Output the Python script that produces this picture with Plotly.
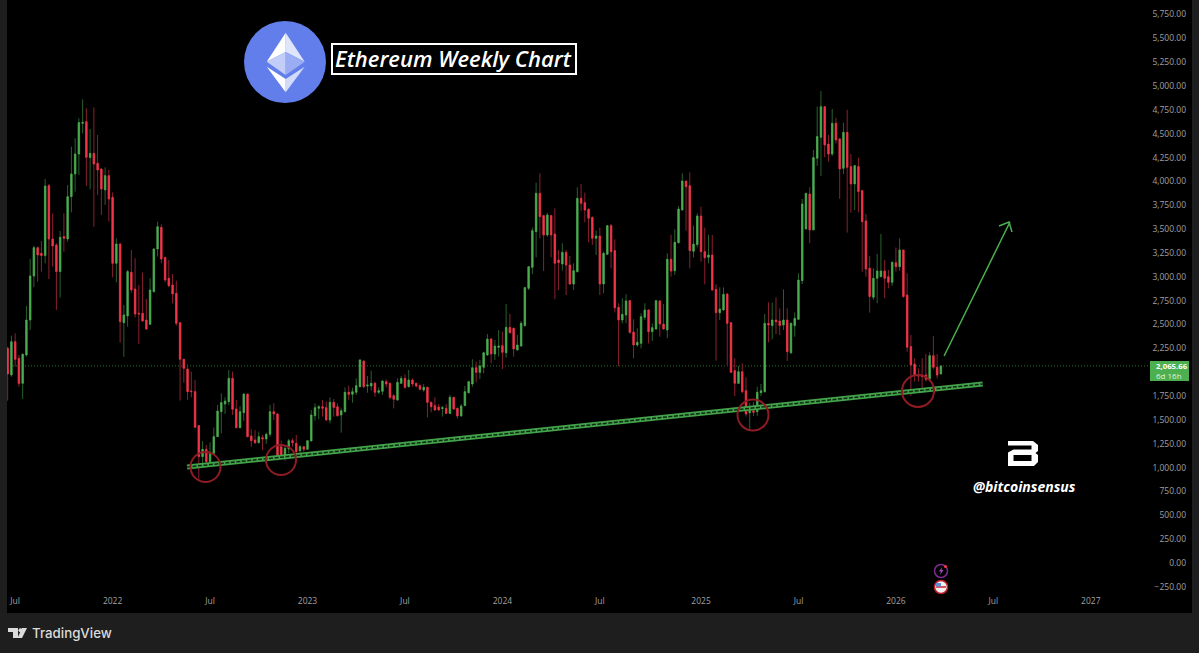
import pandas as pd
import plotly.graph_objects as go

W = 1199
H = 653

first_week = "2021-06-21"

opens = [
    2250, 1971, 2320, 2145, 1883, 2180, 2547, 3008, 3305, 3246, 3222, 3955, 3396, 3333, 3054, 3421, 3396, 3840, 4078, 4287,
    4609, 4626, 4249, 4294, 4189, 4130, 3910, 4060, 3833, 3141, 3344, 2519, 2589, 3047, 2872, 2617, 2617, 2547, 2502, 2844,
    3291, 3518, 3201, 2984, 2914, 2827, 2519, 2135, 2034, 1803, 1796, 1440, 1115, 1191, 1062, 1150, 1324, 1586, 1667, 1691,
    1936, 1614, 1418, 1576, 1771, 1331, 1289, 1261, 1314, 1300, 1349, 1586, 1562, 1219, 1125, 1195, 1282, 1254, 1177, 1219,
    1191, 1279, 1544, 1621, 1638, 1628, 1499, 1684, 1638, 1551, 1586, 1789, 1768, 1789, 1848, 2117, 1855, 1855, 1883, 1789,
    1799, 1901, 1883, 1754, 1708, 1883, 1935, 1848, 1918, 1883, 1859, 1813, 1841, 1684, 1649, 1635, 1618, 1621, 1568, 1736,
    1621, 1541, 1649, 1785, 1876, 2047, 1998, 2051, 2180, 2348, 2191, 2260, 2278, 2204, 2470, 2460, 2232, 2274, 2488, 2879,
    3099, 3473, 3875, 3641, 3438, 3641, 3448, 3176, 3134, 3256, 3123, 2924, 3053, 3822, 3777, 3707, 3623, 3403, 3427, 2924,
    3235, 3536, 3274, 2680, 2547, 2599, 2750, 2421, 2285, 2302, 2575, 2652, 2425, 2453, 2746, 2505, 2442, 3183, 3064, 3357,
    3700, 4004, 3955, 3267, 3337, 3637, 3263, 3204, 3228, 2868, 2624, 2652, 2819, 2519, 2016, 1883, 2005, 1806, 1575, 1596,
    1586, 1785, 1796, 2512, 2488, 2547, 2536, 2494, 2547, 2204, 2488, 2554, 2959, 3501, 3868, 3491, 4242, 4462, 4783, 4392,
    4287, 4609, 4445, 4137, 4514, 4155, 3973, 4155, 3903, 3585, 3089, 2785, 2984, 3001, 3061, 3001, 2942, 3148, 3106, 3281,
    2809, 2268, 2086, 1971, 1971, 1971, 1929, 2173, 2051, 1981,
]
highs = [
    2268, 2383, 2407, 2180, 2198, 2694, 3187, 3326, 3316, 3375, 4025, 3973, 3665, 3351, 3480, 3665, 3962, 4364, 4451, 4661,
    4860, 4766, 4549, 4776, 4486, 4137, 4147, 4119, 3885, 3403, 3351, 2704, 3071, 3281, 3194, 2914, 3043, 2767, 2984, 3298,
    3578, 3550, 3211, 3176, 3029, 2959, 2519, 2135, 2082, 2006, 1918, 1440, 1279, 1237, 1265, 1419, 1656, 1778, 1737, 2023,
    2006, 1709, 1646, 1778, 1771, 1401, 1394, 1377, 1342, 1366, 1656, 1674, 1569, 1282, 1237, 1300, 1307, 1342, 1237, 1226,
    1289, 1604, 1673, 1656, 1708, 1691, 1736, 1719, 1673, 1621, 1841, 1859, 1838, 1935, 2138, 2121, 1960, 2016, 1901, 1841,
    1918, 1925, 1890, 1768, 1935, 1960, 1977, 2023, 1935, 1890, 1872, 1876, 1848, 1691, 1736, 1666, 1645, 1666, 1761, 1743,
    1628, 1666, 1855, 1911, 2135, 2110, 2128, 2215, 2400, 2355, 2337, 2442, 2425, 2715, 2610, 2467, 2390, 2536, 2896, 3113,
    3515, 3986, 4084, 3648, 3672, 3648, 3717, 3281, 3350, 3281, 3218, 3141, 3937, 3972, 3882, 3717, 3630, 3483, 3515, 3263,
    3543, 3553, 3392, 2722, 2774, 2816, 2757, 2554, 2460, 2617, 2722, 2662, 2512, 2757, 2757, 2715, 3246, 3441, 3497, 3742,
    4084, 4004, 4095, 3536, 3665, 3735, 3515, 3441, 3438, 2921, 2889, 2889, 2826, 2519, 2145, 2065, 2093, 1946, 1680, 1687,
    1848, 1876, 2610, 2732, 2729, 2784, 2669, 2868, 2669, 2522, 2627, 3036, 3815, 3875, 3938, 4329, 4783, 4948, 4790, 4487,
    4759, 4668, 4452, 4616, 4749, 4287, 4172, 4249, 3910, 3655, 3218, 3089, 3239, 3449, 3176, 3071, 3159, 3306, 3403, 3281,
    3036, 2390, 2145, 2041, 2145, 2191, 2208, 2380, 2191, 2069,
]
lows = [
    1702, 1953, 2058, 1848, 1719, 2163, 2442, 2890, 2949, 3054, 3141, 2977, 3106, 2652, 2781, 3263, 3368, 3676, 3892, 4067,
    4504, 3952, 3917, 3525, 3857, 3648, 3753, 3578, 2994, 2942, 2310, 2163, 2477, 2834, 2575, 2296, 2530, 2442, 2495, 2837,
    3211, 3141, 2942, 2890, 2722, 2488, 1702, 1890, 1709, 1737, 1422, 870, 1038, 1052, 1055, 1150, 1324, 1359, 1562, 1656,
    1551, 1412, 1412, 1492, 1324, 1219, 1247, 1254, 1185, 1247, 1324, 1499, 1073, 1115, 1073, 1150, 1219, 1132, 1149, 1167,
    1184, 1279, 1492, 1506, 1534, 1492, 1464, 1534, 1534, 1366, 1579, 1708, 1680, 1761, 1841, 1831, 1785, 1806, 1743, 1771,
    1761, 1841, 1715, 1621, 1701, 1876, 1827, 1841, 1848, 1841, 1813, 1796, 1527, 1579, 1596, 1596, 1534, 1561, 1561, 1604,
    1516, 1534, 1645, 1778, 1848, 1894, 1928, 1988, 2173, 2093, 2128, 2163, 2033, 2152, 2407, 2163, 2232, 2267, 2477, 2861,
    3029, 3204, 3403, 3060, 3420, 3204, 2767, 2861, 3064, 2809, 2914, 2861, 3047, 3693, 3571, 3361, 3333, 3228, 2809, 2826,
    3228, 3088, 2627, 2065, 2512, 2512, 2400, 2145, 2267, 2250, 2547, 2302, 2327, 2442, 2372, 2442, 2355, 3001, 3019, 3350,
    3700, 3483, 3088, 3204, 3309, 3158, 2921, 3141, 2854, 2121, 2547, 2645, 2075, 1998, 1750, 1876, 1778, 1534, 1387, 1541,
    1541, 1750, 1785, 2313, 2344, 2400, 2390, 2442, 2117, 2191, 2372, 2547, 2924, 3501, 3351, 3491, 4162, 4057, 4252, 4207,
    4266, 4399, 3816, 4078, 3463, 3672, 3700, 3676, 3054, 3001, 2624, 2757, 2722, 3001, 2774, 2879, 2904, 3054, 3064, 2781,
    2215, 1751, 1901, 1901, 1796, 1901, 1918, 2030, 1936, 1981,
]
closes = [
    1981, 2320, 2135, 1883, 2187, 2547, 3008, 3305, 3228, 3222, 3952, 3396, 3323, 3054, 3414, 3403, 3840, 4078, 4287, 4616,
    4619, 4252, 4294, 4182, 4119, 3920, 4060, 3815, 3141, 3344, 2530, 2600, 3054, 2862, 2610, 2610, 2537, 2453, 2862, 3291,
    3525, 3187, 2966, 2907, 2820, 2512, 2135, 2041, 1796, 1796, 1422, 1115, 1191, 1062, 1160, 1324, 1593, 1681, 1698, 1936,
    1611, 1418, 1586, 1771, 1324, 1282, 1261, 1324, 1300, 1349, 1586, 1562, 1132, 1132, 1202, 1282, 1261, 1167, 1219, 1191,
    1282, 1551, 1628, 1638, 1621, 1499, 1684, 1631, 1544, 1596, 1789, 1768, 1796, 1859, 2128, 1848, 1866, 1883, 1789, 1806,
    1907, 1876, 1736, 1715, 1893, 1935, 1841, 1918, 1876, 1855, 1820, 1841, 1684, 1638, 1604, 1604, 1628, 1568, 1736, 1614,
    1541, 1645, 1796, 1901, 2047, 1998, 2065, 2204, 2348, 2191, 2274, 2274, 2208, 2470, 2414, 2243, 2285, 2512, 2886, 3106,
    3483, 3875, 3630, 3438, 3648, 3438, 3141, 3148, 3256, 3123, 2924, 3064, 3822, 3770, 3700, 3613, 3403, 3427, 2924, 3246,
    3536, 3263, 2676, 2547, 2606, 2746, 2418, 2285, 2313, 2582, 2652, 2425, 2467, 2750, 2505, 2453, 3183, 3060, 3361, 3710,
    4004, 3944, 3274, 3343, 3637, 3263, 3200, 3228, 2861, 2624, 2662, 2816, 2512, 1998, 1883, 2005, 1796, 1562, 1596, 1579,
    1789, 1806, 2512, 2494, 2547, 2529, 2488, 2547, 2215, 2512, 2564, 2966, 3763, 3875, 3491, 4249, 4469, 4783, 4382, 4287,
    4609, 4434, 4130, 4514, 4148, 3973, 4165, 3893, 3578, 3082, 2792, 2984, 3061, 3061, 2984, 2942, 3152, 3106, 3281, 2792,
    2261, 2076, 1971, 1960, 1953, 1925, 2173, 2051, 1971, 2066,
]

# the 2,000 label sits behind the last price tag
price_ticks = [-250, 0, 250, 500, 750, 1000, 1250, 1500, 1750, 2250, 2500, 2750, 3000, 3250, 3500, 3750,
               4000, 4250, 4500, 4750, 5000, 5250, 5500, 5750]
time_tick_dates = ["2021-07-05", "2022-01-03", "2022-07-04", "2023-01-02", "2023-07-03", "2024-01-01",
                   "2024-07-01", "2025-01-06", "2025-07-07", "2026-01-05", "2026-07-06", "2027-01-04"]
time_tick_labels = ["Jul", "2022", "Jul", "2023", "Jul", "2024", "Jul", "2025", "Jul", "2026", "Jul", "2027"]

last_price = 2065.66
trend_dates = ["2022-05-22", "2026-06-16"]
trend_prices = [1006, 1876]
arrow_dates = ["2026-04-05", "2026-08-06"]
arrow_prices = [2170, 3574]

GREEN = "#4caf50"
RED = "#f5364a"
GREEN_WICK = "#29602d"
RED_WICK = "#8a2130"


def fmt_price(v):
    if v < 0:
        return "\u2212" + f"{-v:,.2f}"
    return f"{v:,.2f}"


# pixel helpers for the decoration drawn on top of the chart
def px(x):
    return x / W


def py(y):
    return 1 - y / H


def poly(points, color):
    path = "M " + " L ".join(f"{px(x):.5f},{py(y):.5f}" for x, y in points) + " Z"
    return dict(type="path", xref="paper", yref="paper", path=path, fillcolor=color, line=dict(width=0))


def circle(cx, cy, r, line=None, fill=None, width=2):
    return dict(type="circle", xref="paper", yref="paper",
                x0=px(cx - r), x1=px(cx + r), y0=py(cy + r), y1=py(cy - r),
                line=dict(color=line or "rgba(0,0,0,0)", width=width if line else 0),
                fillcolor=fill or "rgba(0,0,0,0)")


def rect(x0, y0, x1, y1, fill, line=None, width=0, layer="above"):
    return dict(type="rect", xref="paper", yref="paper", layer=layer,
                x0=px(x0), x1=px(x1), y0=py(y1), y1=py(y0),
                fillcolor=fill, line=dict(color=line or fill, width=width))


def label(x, y, text, size, color="#ffffff", family="Open Sans", weight=400, style="normal", anchor="center"):
    return dict(xref="paper", yref="paper", x=px(x), y=py(y), text=text, showarrow=False,
                xanchor=anchor, yanchor="middle",
                font=dict(family=family, size=size, color=color, weight=weight, style=style))


dates = pd.date_range(first_week, periods=len(opens), freq="7D")
body_high = [max(o, c) for o, c in zip(opens, closes)]
body_low = [min(o, c) for o, c in zip(opens, closes)]

fig = go.Figure()
fig.add_trace(go.Candlestick(
    x=dates, open=opens, high=highs, low=lows, close=closes, whiskerwidth=0,
    increasing=dict(line=dict(color=GREEN_WICK, width=1), fillcolor=GREEN_WICK),
    decreasing=dict(line=dict(color=RED_WICK, width=1), fillcolor=RED_WICK),
    showlegend=False, hoverinfo="skip",
))
fig.add_trace(go.Candlestick(
    x=dates, open=opens, high=body_high, low=body_low, close=closes, whiskerwidth=0,
    increasing=dict(line=dict(color=GREEN, width=0.5), fillcolor=GREEN),
    decreasing=dict(line=dict(color=RED, width=0.5), fillcolor=RED),
    showlegend=False, hoverinfo="skip",
))
# support line, drawn wide with a darker dashed core
fig.add_trace(go.Scatter(x=trend_dates, y=trend_prices, mode="lines",
                         line=dict(color="#43a34b", width=5), showlegend=False, hoverinfo="skip"))
fig.add_trace(go.Scatter(x=trend_dates, y=trend_prices, mode="lines",
                         line=dict(color="#0f2a12", width=1.5, dash="4px,1.5px"), showlegend=False, hoverinfo="skip"))
fig.add_trace(go.Scatter(x=arrow_dates, y=arrow_prices, mode="lines",
                         line=dict(color=GREEN, width=1.5), showlegend=False, hoverinfo="skip"))

shapes = [
    rect(7, 0, 1192, 613, "#000000", layer="below"),
    dict(type="line", xref="paper", yref="y", x0=px(7), x1=px(1150), y0=last_price, y1=last_price,
         layer="below", line=dict(color="#1f7a2a", width=1, dash="1px,2px")),
    # arrow head
    dict(type="path", xref="paper", yref="paper",
         path=f"M {px(999)},{py(226)} L {px(1009)},{py(222)} L {px(1012)},{py(232)}",
         line=dict(color=GREEN, width=1.5)),
    # touches of the support line
    circle(205.5, 467, 15, line="#8e1c24"),
    circle(281, 460, 15, line="#8e1c24"),
    circle(753, 415, 15.5, line="#8e1c24"),
    circle(918, 391, 16, line="#8e1c24"),
    # ethereum badge
    circle(285, 62, 41, fill="#627eea"),
    poly([(285.7, 32.7), (266.7, 61.7), (285.7, 52)], "#ffffff"),
    poly([(285.7, 32.7), (304.7, 61.7), (285.7, 52)], "#dfe5fb"),
    poly([(266.7, 61.7), (285.7, 52), (285.7, 75)], "#c3cef8"),
    poly([(304.7, 61.7), (285.7, 52), (285.7, 75)], "#9aacf3"),
    poly([(266.7, 66.7), (285.7, 79), (285.7, 92.3)], "#ffffff"),
    poly([(304.7, 66.7), (285.7, 79), (285.7, 92.3)], "#d3dbfa"),
    # title box
    rect(332, 44, 576, 74, "#000000", line="#ffffff", width=2),
    # last price tag
    rect(1150, 361, 1189, 381, GREEN),
    # B logo, solid block with the gaps cut out in black
    poly([(1008, 441), (1033, 441), (1038, 445), (1038, 451), (1035.5, 453), (1038, 455), (1038, 462),
          (1034, 466), (1008, 466)], "#ffffff"),
    poly([(1008, 445.5), (1031.5, 445.5), (1031.5, 449.5), (1013.5, 449.5), (1008, 452.5)], "#000000"),
    poly([(1013.5, 455), (1031.5, 455), (1031.5, 461), (1013.5, 461)], "#000000"),
    # event icons
    circle(941, 571, 6.5, line="#7b2d8e", width=1.5),
    circle(945.5, 566.5, 1.6, fill="#f23645"),
    poly([(942, 567), (939, 571.5), (941, 571.5), (940, 575), (943.5, 570), (941.5, 570)], "#a04fc0"),
    circle(941, 587, 6.5, line="#c4202c", fill="#f0f0f0", width=1.5),
    rect(936, 586, 946, 588, "#e05060"),
    rect(936, 583, 941, 586.5, "#5b8fd9"),
    # tradingview glyph
    poly([(8, 628), (18, 628), (18, 638), (13, 638), (13, 632), (8, 632)], "#dbdbdb"),
    circle(20.5, 630.2, 2, fill="#dbdbdb"),
    poly([(22, 628), (27, 628), (22, 638), (17.5, 638)], "#dbdbdb"),
]

annotations = [
    label(453.5, 58.5, "Ethereum Weekly Chart", 22, family="Open Sans", weight=600, style="italic"),
    label(1024.5, 486.5, "@bitcoinsensus", 14, family="Open Sans", weight=700, style="italic"),
    label(1154, 366, "2,065.66", 7.8, weight=700, anchor="left"),
    label(1154, 375, "6d 16h", 8, color="#dff3e0", anchor="left"),
    label(71.5, 633, "TradingView", 13.3, color="#dbdbdb", family="Inter", weight=500),
]

fig.update_layout(
    width=W,
    height=H,
    margin=dict(l=0, r=0, t=0, b=0),
    paper_bgcolor="#1e1e1e",
    plot_bgcolor="#000000",
    boxgap=0.45,
    boxmode="overlay",
    showlegend=False,
    shapes=shapes,
    annotations=annotations,
    xaxis=dict(
        domain=[px(7), px(1150)],
        range=["2021-06-19 18:00", "2027-04-24 14:00"],
        rangeslider=dict(visible=False),
        showgrid=False, zeroline=False, showline=False, ticks="",
        tickvals=time_tick_dates, ticktext=time_tick_labels, tickangle=0,
        tickfont=dict(family="Open Sans", size=8.5, color="#a0a0a0"),
        anchor="y",
    ),
    yaxis=dict(
        domain=[py(594), 1],
        range=[-325, 5901],
        anchor="free", position=px(1186), side="left",
        showgrid=False, zeroline=False, showline=False, ticks="",
        tickvals=price_ticks, ticktext=[fmt_price(v) for v in price_ticks],
        tickfont=dict(family="Open Sans", size=8.5, color="#a0a0a0"),
    ),
)

# the default page margin would push the fixed-size figure 8px in
fig.write_html("out.html", config={"displayModeBar": False},
               post_script="document.body.style.margin='0';")
